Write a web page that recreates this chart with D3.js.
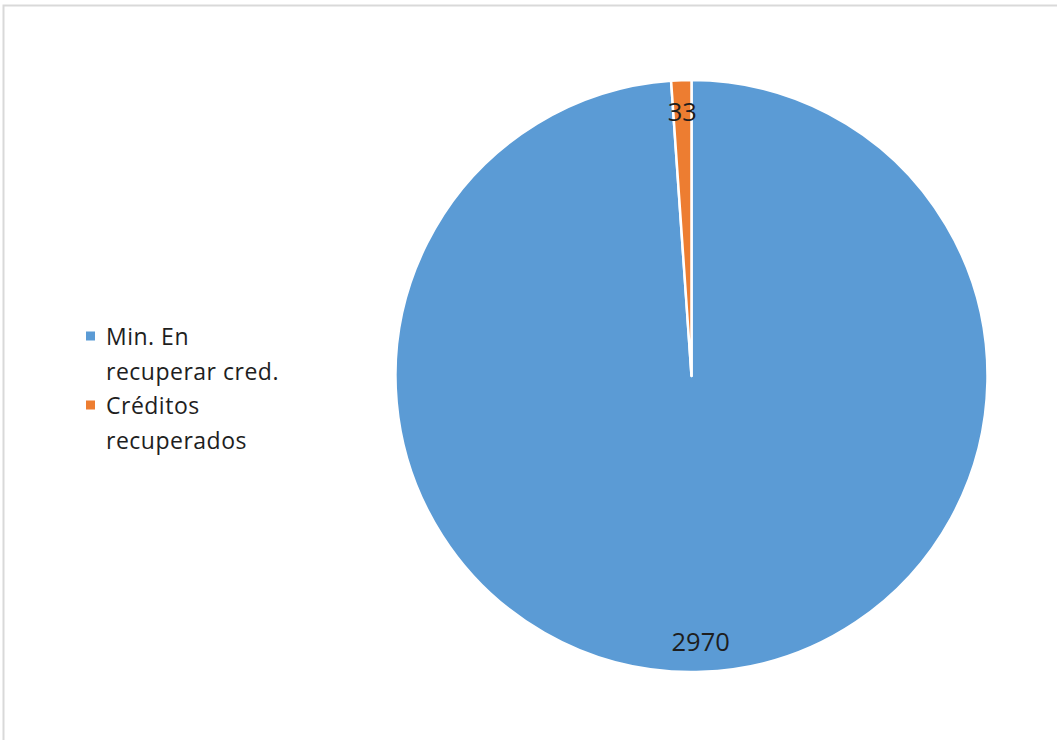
<!DOCTYPE html>
<html>
<head>
<meta charset="utf-8">
<script src="https://cdn.jsdelivr.net/npm/d3@7"></script>
<style>
  html, body { margin: 0; padding: 0; background: #fff; }
  svg { display: block; }
</style>
</head>
<body>
<svg id="chart" width="1057" height="740"></svg>
<script>
// Slice data
const categories = ["Min. En recuperar cred.", "Créditos recuperados"];
const values = [2970, 33];
const colors = ["#5B9BD5", "#ED7D31"];
// Legend lines (each category wraps onto two lines)
const legendLines = [["Min. En", "recuperar cred."], ["Créditos", "recuperados"]];

const W = 1057, H = 740;
const svg = d3.select("#chart");
const font = "'Open Sans', 'Noto Sans', sans-serif";

// chart frame
svg.append("path")
  .attr("d", `M3.5,${H} V5.5 H${W}`)
  .attr("fill", "none")
  .attr("stroke", "#d9d9d9")
  .attr("stroke-width", 2);

const cx = 691.5, cy = 376, R = 296;

const pie = d3.pie().value(d => d).sort(null);
const arcs = pie(values);
const arc = d3.arc().innerRadius(0).outerRadius(R);
const labelArc = d3.arc().innerRadius(R * 0.895).outerRadius(R * 0.895);

const g = svg.append("g").attr("transform", `translate(${cx},${cy})`);

g.selectAll("path.slice")
  .data(arcs)
  .join("path")
  .attr("class", "slice")
  .attr("d", arc)
  .attr("fill", (d, i) => colors[i])
  .attr("stroke", "#fff")
  .attr("stroke-width", 2.5)
  .attr("stroke-linejoin", "round");

g.selectAll("text.val")
  .data(arcs)
  .join("text")
  .attr("class", "val")
  .attr("transform", d => `translate(${labelArc.centroid(d)})`)
  .attr("text-anchor", "middle")
  .attr("dominant-baseline", "central")
  .attr("font-family", font)
  .attr("font-size", 25.5)
  .attr("fill", "#1e1e1e")
  .text(d => d.data);

// legend
const legend = svg.append("g");
const lineH = 34.5;
legendLines.forEach((lines, i) => {
  const y0 = 336 + i * 2 * lineH;
  legend.append("rect")
    .attr("x", 86).attr("y", y0 - 4.5)
    .attr("width", 9).attr("height", 9)
    .attr("fill", colors[i]);
  lines.forEach((t, j) => {
    legend.append("text")
      .attr("x", 106)
      .attr("y", y0 + j * lineH)
      .attr("dominant-baseline", "central")
      .attr("font-family", font)
      .attr("font-size", 23)
      .attr("letter-spacing", 0.5)
      .attr("fill", "#1e1e1e")
      .text(t);
  });
});
</script>
</body>
</html>
